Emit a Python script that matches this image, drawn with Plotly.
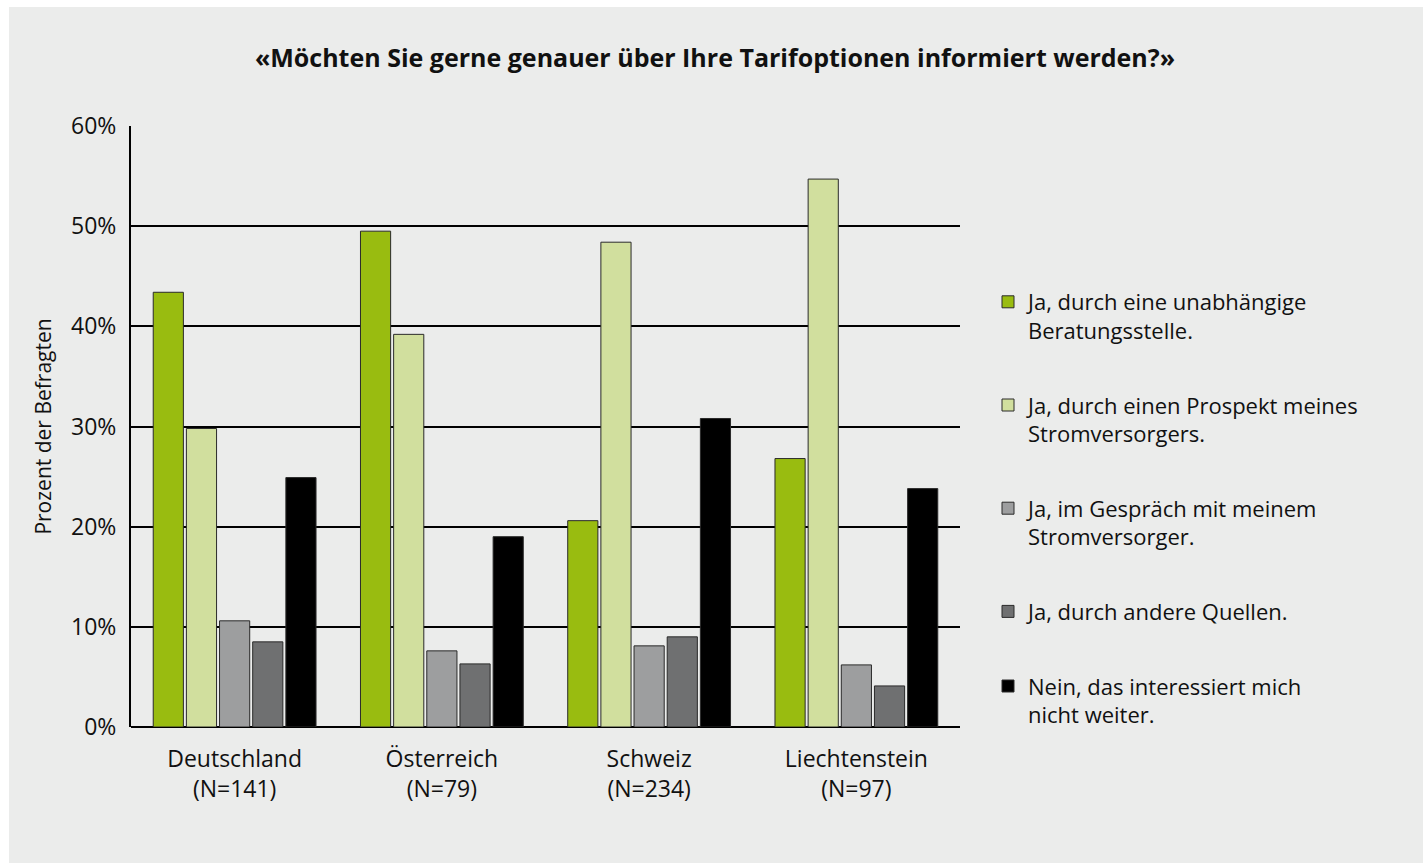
import plotly.graph_objects as go

categories = ["Deutschland<br>(N=141)", "Österreich<br>(N=79)", "Schweiz<br>(N=234)", "Liechtenstein<br>(N=97)"]
series_names = [
    "Ja, durch eine unabhängige<br>Beratungsstelle.",
    "Ja, durch einen Prospekt meines<br>Stromversorgers.",
    "Ja, im Gespräch mit meinem<br>Stromversorger.",
    "Ja, durch andere Quellen.",
    "Nein, das interessiert mich<br>nicht weiter.",
]
unabhaengig = [43.4, 49.5, 20.6, 26.8]
prospekt = [29.8, 39.2, 48.4, 54.7]
gespraech = [10.6, 7.6, 8.1, 6.2]
andere = [8.5, 6.3, 9.0, 4.1]
nein = [24.9, 19.0, 30.8, 23.8]
tick_vals = [0, 10, 20, 30, 40, 50, 60]
tick_text = ["0%", "10%", "20%", "30%", "40%", "50%", "60%"]

colors = ["#99bc10", "#d1df9e", "#9d9e9f", "#6f7071", "#000000"]
series = [unabhaengig, prospekt, gespraech, andere, nein]

FONT = "Open Sans"
TXT = "#111111"

fig = go.Figure()
for i, (name, vals) in enumerate(zip(series_names, series)):
    fig.add_trace(go.Bar(
        x=categories, y=vals, name=name,
        marker=dict(color=colors[i], line=dict(color="#2a2a2a", width=1)),
        legendgroup=f"g{i}",
    ))

W, H = 1432, 872
L, T = 122, 119
PW, PH = 829, 601
R, B = W - L - PW, H - T - PH

def px_x(p):
    return (p - L) / PW

def px_y(p):
    return (T + PH - p) / PH

fig.update_layout(
    width=W, height=H,
    margin=dict(l=L, r=R, t=T, b=B),
    paper_bgcolor="#ebeceb",
    plot_bgcolor="#ebeceb",
    barmode="group",
    bargap=0.2,
    bargroupgap=0.09,
    font=dict(family=FONT, size=22, color=TXT),
    title=dict(
        text="<b>«Möchten Sie gerne genauer über Ihre Tarifoptionen informiert werden?»</b>",
        x=706 / W, xref="container", xanchor="center",
        y=1 - 51 / H, yref="container", yanchor="middle",
        font=dict(family=FONT, size=25, color=TXT),
    ),
    xaxis=dict(
        showgrid=False, showline=False, ticks="",
        tickfont=dict(size=23),
        ticklabelstandoff=16,
    ),
    yaxis=dict(
        range=[0, 60],
        tickvals=tick_vals, ticktext=tick_text,
        showgrid=True, gridcolor="#000000", gridwidth=2,
        showline=True, linecolor="#000000", linewidth=2,
        zeroline=True, zerolinecolor="#000000", zerolinewidth=2,
        ticks="", ticklen=0,
        tickfont=dict(size=23),
        ticklabelstandoff=8,
        title=dict(text="Prozent der Befragten", font=dict(size=21), standoff=14),
    ),
    legend=dict(
        x=px_x(979), y=px_y(274), xanchor="left", yanchor="top",
        bgcolor="rgba(0,0,0,0)",
        font=dict(size=22),
        tracegroupgap=43,
        traceorder="grouped",
        itemwidth=30,
        valign="top",
    ),
)

fig.write_html(
    "out.html",
    post_script=(
        "document.documentElement.style.overflow='hidden';"
        "document.body.style.overflow='hidden';"
        "document.body.style.margin='7px 0 0 9px';"
    ),
)
